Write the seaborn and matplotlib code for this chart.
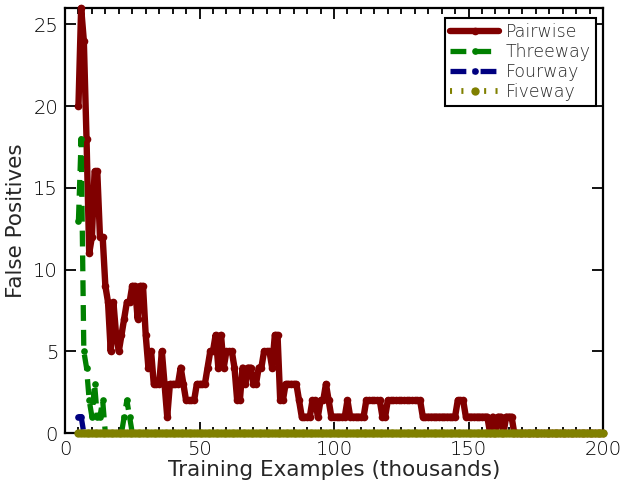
import numpy as np
import pandas as pd
import matplotlib
matplotlib.use("Agg")
import matplotlib.pyplot as plt
from matplotlib.ticker import MultipleLocator
import seaborn as sns

# x positions: training examples in thousands (5 .. 200)
thousands = np.arange(5, 201)

pairwise = [
    20, 26, 24, 18, 11, 12, 16, 16, 12, 12,
    9, 8, 5, 8, 6, 5, 6, 7, 8, 8,
    9, 9, 7, 9, 9, 6, 4, 5, 3, 3,
    3, 5, 3, 1, 3, 3, 3, 3, 4, 3,
    2, 2, 2, 2, 3, 3, 3, 3, 4, 5,
    5, 6, 4, 6, 4, 5, 5, 5, 4, 2,
    2, 4, 3, 4, 4, 3, 3, 4, 4, 5,
    5, 5, 4, 6, 6, 2, 2, 3, 3, 3,
    3, 3, 2, 1, 1, 1, 1, 2, 2, 1,
    2, 2, 3, 2, 1, 1, 1, 1, 1, 1,
    2, 1, 1, 1, 1, 1, 1, 2, 2, 2,
    2, 2, 2, 1, 1, 2, 2, 2, 2, 2,
    2, 2, 2, 2, 2, 2, 2, 2, 1, 1,
    1, 1, 1, 1, 1, 1, 1, 1, 1, 1,
    1, 2, 2, 2, 1, 1, 1, 1, 1, 1,
    1, 1, 1, 0, 1, 0, 1, 1, 0, 1,
    1, 1, 0, 0, 0, 0, 0, 0, 0, 0,
    0, 0, 0, 0, 0, 0, 0, 0, 0, 0,
    0, 0, 0, 0, 0, 0, 0, 0, 0, 0,
    0, 0, 0, 0, 0, 0,
]

threeway = [
    13, 18, 5, 4, 2, 1, 3, 1, 1, 2,
    0, 0, 0, 0, 0, 0, 0, 1, 2, 1,
    0, 0, 0, 0, 0, 0, 0, 0, 0, 0,
    0, 0, 0, 0, 0, 0, 0, 0, 0, 0,
    0, 0, 0, 0, 0, 0, 0, 0, 0, 0,
    0, 0, 0, 0, 0, 0, 0, 0, 0, 0,
    0, 0, 0, 0, 0, 0, 0, 0, 0, 0,
    0, 0, 0, 0, 0, 0, 0, 0, 0, 0,
    0, 0, 0, 0, 0, 0, 0, 0, 0, 0,
    0, 0, 0, 0, 0, 0, 0, 0, 0, 0,
    0, 0, 0, 0, 0, 0, 0, 0, 0, 0,
    0, 0, 0, 0, 0, 0, 0, 0, 0, 0,
    0, 0, 0, 0, 0, 0, 0, 0, 0, 0,
    0, 0, 0, 0, 0, 0, 0, 0, 0, 0,
    0, 0, 0, 0, 0, 0, 0, 0, 0, 0,
    0, 0, 0, 0, 0, 0, 0, 0, 0, 0,
    0, 0, 0, 0, 0, 0, 0, 0, 0, 0,
    0, 0, 0, 0, 0, 0, 0, 0, 0, 0,
    0, 0, 0, 0, 0, 0, 0, 0, 0, 0,
    0, 0, 0, 0, 0, 0,
]

fourway = [
    1, 1, 0, 0, 0, 0, 0, 0, 0, 0,
    0, 0, 0, 0, 0, 0, 0, 0, 0, 0,
    0, 0, 0, 0, 0, 0, 0, 0, 0, 0,
    0, 0, 0, 0, 0, 0, 0, 0, 0, 0,
    0, 0, 0, 0, 0, 0, 0, 0, 0, 0,
    0, 0, 0, 0, 0, 0, 0, 0, 0, 0,
    0, 0, 0, 0, 0, 0, 0, 0, 0, 0,
    0, 0, 0, 0, 0, 0, 0, 0, 0, 0,
    0, 0, 0, 0, 0, 0, 0, 0, 0, 0,
    0, 0, 0, 0, 0, 0, 0, 0, 0, 0,
    0, 0, 0, 0, 0, 0, 0, 0, 0, 0,
    0, 0, 0, 0, 0, 0, 0, 0, 0, 0,
    0, 0, 0, 0, 0, 0, 0, 0, 0, 0,
    0, 0, 0, 0, 0, 0, 0, 0, 0, 0,
    0, 0, 0, 0, 0, 0, 0, 0, 0, 0,
    0, 0, 0, 0, 0, 0, 0, 0, 0, 0,
    0, 0, 0, 0, 0, 0, 0, 0, 0, 0,
    0, 0, 0, 0, 0, 0, 0, 0, 0, 0,
    0, 0, 0, 0, 0, 0, 0, 0, 0, 0,
    0, 0, 0, 0, 0, 0,
]

fiveway = [
    0, 0, 0, 0, 0, 0, 0, 0, 0, 0,
    0, 0, 0, 0, 0, 0, 0, 0, 0, 0,
    0, 0, 0, 0, 0, 0, 0, 0, 0, 0,
    0, 0, 0, 0, 0, 0, 0, 0, 0, 0,
    0, 0, 0, 0, 0, 0, 0, 0, 0, 0,
    0, 0, 0, 0, 0, 0, 0, 0, 0, 0,
    0, 0, 0, 0, 0, 0, 0, 0, 0, 0,
    0, 0, 0, 0, 0, 0, 0, 0, 0, 0,
    0, 0, 0, 0, 0, 0, 0, 0, 0, 0,
    0, 0, 0, 0, 0, 0, 0, 0, 0, 0,
    0, 0, 0, 0, 0, 0, 0, 0, 0, 0,
    0, 0, 0, 0, 0, 0, 0, 0, 0, 0,
    0, 0, 0, 0, 0, 0, 0, 0, 0, 0,
    0, 0, 0, 0, 0, 0, 0, 0, 0, 0,
    0, 0, 0, 0, 0, 0, 0, 0, 0, 0,
    0, 0, 0, 0, 0, 0, 0, 0, 0, 0,
    0, 0, 0, 0, 0, 0, 0, 0, 0, 0,
    0, 0, 0, 0, 0, 0, 0, 0, 0, 0,
    0, 0, 0, 0, 0, 0, 0, 0, 0, 0,
    0, 0, 0, 0, 0, 0,
]

series_names = ["Pairwise", "Threeway", "Fourway", "Fiveway"]
series_values = [pairwise, threeway, fourway, fiveway]
colors = ["#800000", "#008000", "#000080", "#808000"]
x_ticks = [0, 50, 100, 150, 200]
y_ticks = [0, 5, 10, 15, 20, 25]

sns.set_style("ticks")
plt.rcParams["font.family"] = ["DejaVu Sans"]
plt.rcParams["font.weight"] = "light"

fig = plt.figure(figsize=(6.22, 4.86), dpi=100)
ax = fig.add_axes([0.1045, 0.109, 0.8650, 0.8745])

styles = [
    dict(lw=4.6, ms=5.5, dashes=None),
    dict(lw=3.8, ms=4.8, dashes=(3.0, 1.7)),
    dict(lw=3.8, ms=4.8, dashes=(3.0, 1.2, 0.3, 1.2)),
    dict(lw=4.2, ms=6.0, dashes=(0.35, 1.6)),
]

for i, (name, vals, col, st) in enumerate(zip(series_names, series_values, colors, styles)):
    sns.lineplot(x=thousands, y=vals, ax=ax, color=col, lw=st["lw"],
                 marker="o", markersize=st["ms"], markeredgewidth=0,
                 label=name, clip_on=False, estimator=None, sort=False,
                 zorder=4 + i)
    line = ax.lines[-1]
    line.set_clip_on(False)
    line.set_zorder(4 + i)
    if st["dashes"] is not None:
        line.set_dashes(st["dashes"])
        line.set_dash_capstyle("butt")
    else:
        line.set_solid_capstyle("round")
        line.set_solid_joinstyle("round")

ax.set_xlim(0, 200)
ax.set_ylim(0, 26)
ax.set_xticks(x_ticks)
ax.set_yticks(y_ticks)
ax.xaxis.set_minor_locator(MultipleLocator(5))
ax.tick_params(which="both", direction="in", top=True, right=True,
               labelsize=14, width=1.3, colors="black", pad=5)
ax.tick_params(which="major", length=8)
ax.tick_params(which="minor", length=4)
for sp in ax.spines.values():
    sp.set_linewidth(1.6)
    sp.set_color("black")
    sp.set_visible(True)

ax.set_xlabel("Training Examples (thousands)", fontsize=15.5, labelpad=1)
ax.set_ylabel("False Positives", fontsize=15.5, labelpad=5)

leg = ax.legend(loc="upper right", bbox_to_anchor=(0.987, 0.976),
                borderaxespad=0, fontsize=12.5, handlelength=2.8,
                labelspacing=0.1, handletextpad=0.4, borderpad=0.3,
                fancybox=False, frameon=True)
leg.get_frame().set_edgecolor("black")
leg.get_frame().set_linewidth(1.5)
leg.get_frame().set_alpha(1)
leg.set_zorder(20)

fig.savefig("out.png", dpi=100)
